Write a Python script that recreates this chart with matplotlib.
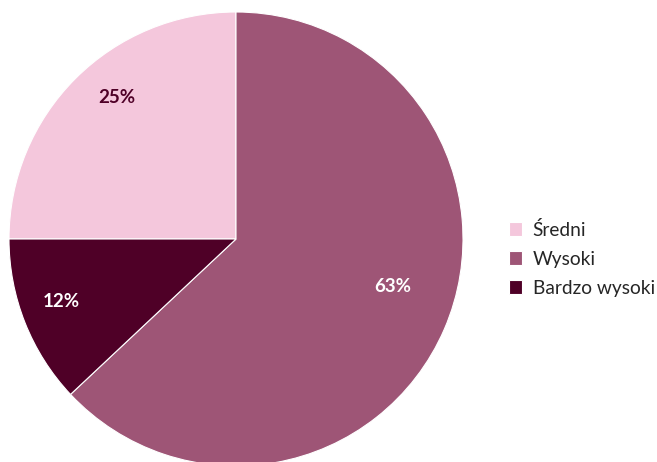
import numpy as np
import matplotlib.pyplot as plt

labels = ['Średni', 'Wysoki', 'Bardzo wysoki']
values = [25, 63, 12]
colors = ['#F4C7DC', '#9E5576', '#4F0027']
text_colors = ['#4F0027', 'white', 'white']
# przesunięcie etykiet: (promień, korekta kąta w stopniach)
label_pos = [(0.815, -5), (0.72, 6.5), (0.815, -2)]

plt.rcParams['font.family'] = ['Lato', 'DejaVu Sans']

fig = plt.figure(figsize=(6.57, 4.62), dpi=100)
ax = fig.add_axes([9 / 657, (223 - 227) / 462, 454 / 657, 454 / 462])

wedges, _ = ax.pie(values, colors=colors, startangle=180, counterclock=False,
                   radius=1, wedgeprops=dict(edgecolor='white', linewidth=0.8))

for w, v, tc, (r, da) in zip(wedges, values, text_colors, label_pos):
    ang = np.deg2rad((w.theta1 + w.theta2) / 2 + da)
    ax.text(r * np.cos(ang), r * np.sin(ang), f'{v}%', ha='center', va='center',
            fontsize=13.5, fontweight='bold', color=tc)

ax.set_xlim(-1, 1)
ax.set_ylim(-1, 1)
ax.set_aspect('equal')
ax.axis('off')

fig.legend(wedges, labels, loc='center left', bbox_to_anchor=(0.748, 0.44),
           frameon=False, fontsize=13.8, handlelength=0.7, handleheight=0.7,
           handletextpad=0.55, labelspacing=0.62, labelcolor='#262626')

fig.savefig('out.png', dpi=100)
